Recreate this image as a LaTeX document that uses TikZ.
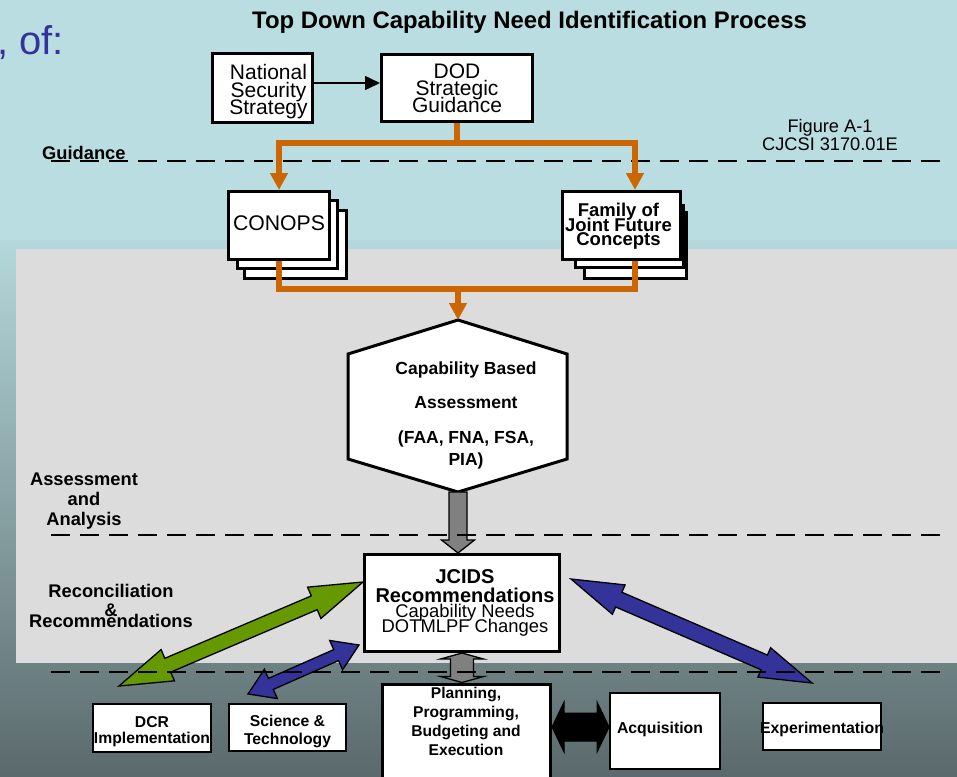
\documentclass[tikz,border=0pt]{standalone}
\usepackage{fontspec}
\setmainfont{Liberation Sans}
\usetikzlibrary{calc,arrows.meta}
\definecolor{bgtop}{HTML}{B9DDE0}
\definecolor{bgmid}{HTML}{B4D8DB}
\definecolor{bgbot}{HTML}{5B6A6C}
\definecolor{panel}{HTML}{DCDCDC}
\definecolor{orng}{HTML}{CC6600}
\definecolor{grn}{HTML}{669900}
\definecolor{blu}{HTML}{333399}
\definecolor{gry}{HTML}{808080}
\newcommand\fsz[2]{\fontsize{#1}{#2}\selectfont}
\newcommand\zc[1]{\makebox[0pt]{#1}}
\newcommand\zcs[2]{\makebox[0pt]{\hspace*{#1}#2}}
% single block arrow: style, from, to, head length, head half width, shaft half width
\newcommand\sblockarrow[6]{%
  \coordinate (sbH) at ($(#3)!#4!(#2)$);
  \draw[#1] ($(#2)!#6!90:(#3)$) -- ($(sbH)!#6!-90:(#2)$) -- ($(sbH)!#5!-90:(#2)$) -- (#3)
    -- ($(sbH)!#5!90:(#2)$) -- ($(sbH)!#6!90:(#2)$) -- ($(#2)!#6!-90:(#3)$) -- cycle;}
% double block arrow
\newcommand\dblockarrow[6]{%
  \coordinate (dbHa) at ($(#2)!#4!(#3)$);
  \coordinate (dbHb) at ($(#3)!#4!(#2)$);
  \draw[#1] (#2) -- ($(dbHa)!#5!90:(#3)$) -- ($(dbHa)!#6!90:(#3)$) -- ($(dbHb)!#6!-90:(#2)$)
    -- ($(dbHb)!#5!-90:(#2)$) -- (#3) -- ($(dbHb)!#5!90:(#2)$) -- ($(dbHb)!#6!90:(#2)$)
    -- ($(dbHa)!#6!-90:(#3)$) -- ($(dbHa)!#5!-90:(#3)$) -- cycle;}
\begin{document}
\lineskiplimit=-100pt
\begin{tikzpicture}[x=1pt,y=-1pt,
  box/.style={draw=black, line width=3pt, fill=white, inner sep=0pt, align=center},
  sbox/.style={draw=black, line width=1.8pt, fill=white, inner sep=0pt, align=center},
  txt/.style={inner sep=0pt, align=center},
  divider/.style={line width=2.6pt, dash pattern=on 19pt off 10pt},
  flow/.style={draw=orng, line width=5.5pt},
  flowtip/.style={-{Triangle[length=17pt,width=17pt]}},
  gblock/.style={fill=grn, draw=black, line width=1.3pt},
  bblock/.style={fill=blu, draw=black, line width=1.3pt},
  yblock/.style={fill=gry, draw=black, line width=1.3pt},
  kblock/.style={fill=black, draw=black, line width=1pt},
  lab/.style={inner sep=0pt, align=center, font=\bfseries\fsz{18.3}{20}}
]
\useasboundingbox (0,0) rectangle (957,776);
\clip (0,0) rectangle (957,776);
% background
\fill[bgtop] (0,0) rectangle (957,241);
\shade[top color=bgmid, bottom color=bgbot] (0,240) rectangle (957,776);
\fill[panel] (16,249) rectangle (957,663);

% texts
\node[anchor=base, inner sep=0pt, font=\bfseries\fsz{23.9}{24}] (title) at (529.5,28.3) {Top Down Capability Need Identification Process};
\node[anchor=base east, inner sep=0pt, text=blu, font=\fsz{40}{40}] (of) at (64,54) {, of:};
\node[anchor=base west, inner sep=0pt, font=\bfseries\fsz{18.3}{20}] (lguid) at (42,159) {Guidance};
\node[txt, font=\fsz{18.2}{18}] (fig) at (830,135.4) {Figure A-1\\CJCSI 3170.01E};
\node[lab] (laa) at (84,501.3) {Assessment\\and\\Analysis};
\node[lab, font=\bfseries\fsz{18.3}{19}] (lrr) at (111,606.3) {Reconciliation\\\&\\[-8pt]Recommendations};

% top boxes
\node[box, minimum width=100pt, minimum height=69pt, font=\fsz{21}{17.7}] (nss) at (262.5,88)
  {\zcs{12pt}{\rule{0pt}{22.4pt}National}\\\zcs{12pt}{Security}\\\zcs{12pt}{Strategy}};
\node[box, minimum width=151pt, minimum height=67pt, font=\fsz{21}{17}] (dod) at (457,88) {DOD\\Strategic\\Guidance};

% CONOPS stack
\node[box, minimum width=102pt, minimum height=68pt] (conops3) at (295.5,244.5) {};
\node[box, minimum width=100pt, minimum height=68pt] (conops2) at (287.5,234.5) {};
\node[box, minimum width=101pt, minimum height=68pt, font=\fsz{21.2}{21}, text height=15.2pt, text depth=4.8pt] (conops) at (279,225.5) {CONOPS};
% Family stack
\node[box, minimum width=102pt, minimum height=66pt] (family3) at (635.5,245.5) {};
\node[box, minimum width=108pt, minimum height=62pt] (family2) at (629.5,236.5) {};
\node[box, minimum width=118pt, minimum height=68pt, font=\bfseries\fsz{18.5}{14.7}] (family) at (621.5,225.5)
  {\zcs{-6pt}{\rule{0pt}{15pt}Family of}\\\zcs{-6pt}{Joint Future}\\\zcs{-6pt}{Concepts}};

% hexagon
\coordinate (ht) at (458,320);
\coordinate (hur) at (567,354);
\coordinate (hlr) at (567,459);
\coordinate (hb) at (458,492);
\coordinate (hll) at (348,459);
\coordinate (hul) at (348,354);
\draw[line width=3pt, fill=white] (ht) -- (hur) -- (hlr) -- (hb) -- (hll) -- (hul) -- cycle;
\node[txt, font=\bfseries\fsz{17.5}{34.5}] (cba) at (466,415) {Capability Based\\Assessment\\(FAA, FNA, FSA,\\[-12.5pt]PIA)};

% JCIDS
\node[box, minimum width=195pt, minimum height=97pt, font=\fsz{18.4}{15}] (jcids) at (462,603)
  {\zcs{6pt}{\bfseries\fsz{20}{15}JCIDS}\\[4pt]\zcs{6pt}{\bfseries\fsz{20}{15}Recommendations}\\\zcs{6pt}{Capability Needs}\\\zcs{6pt}{DOTMLPF Changes}};

% bottom boxes
\node[box, minimum width=168pt, minimum height=120pt, anchor=north] (ppbe) at (466.5,682.5) {};
\node[txt, font=\bfseries\fsz{15.6}{19}] (ppbet) at (466,721.8) {Planning,\\Programming,\\Budgeting and\\Execution};
\node[sbox, minimum width=110pt, minimum height=76pt, font=\bfseries\fsz{15.8}{16}, text height=11.3pt, text depth=7.3pt] (acq) at (665,731) {\zcs{-10pt}{Acquisition}};
\node[sbox, minimum width=118pt, minimum height=47pt, font=\bfseries\fsz{15.8}{16}, text height=16.3pt, text depth=3.3pt] (exp) at (822,726.5) {\zc{Experimentation}};
\node[sbox, minimum width=118pt, minimum height=48pt, font=\bfseries\fsz{15.7}{16}] (dcr) at (152,728) {\zc{\rule{0pt}{17.3pt}DCR}\\\zc{Implementation}};
\node[sbox, minimum width=117pt, minimum height=47pt, font=\bfseries\fsz{15.7}{18}] (st) at (287.5,727.5) {\zc{\rule{0pt}{18.4pt}Science \&}\\\zc{Technology}};

% block arrows
\coordinate (gL) at (119,686);
\coordinate (gR) at ([yshift=21pt]jcids.west);
\dblockarrow{gblock}{gL}{gR}{53pt}{17pt}{7.5pt}
\coordinate (sL) at (248,694);
\coordinate (sR) at ([shift={(-4pt,-42pt)}]jcids.west);
\dblockarrow{bblock}{sL}{sR}{25pt}{16pt}{6pt}
\coordinate (eL) at ([shift={(10pt,24pt)}]jcids.east);
\coordinate (eR) at (812,683);
\dblockarrow{bblock}{eL}{eR}{52pt}{16pt}{8pt}
\coordinate (hbj) at (hb |- jcids.north);
\sblockarrow{yblock}{hb}{hbj}{13pt}{16.5pt}{9pt}
\coordinate (pj) at (jcids.south |- ppbe.north);
\dblockarrow{yblock}{jcids.south}{pj}{6pt}{21.5pt}{11.5pt}
\coordinate (kR) at ([yshift=4pt]acq.west);
\coordinate (kL) at (kR -| ppbe.east);
\dblockarrow{kblock}{kL}{kR}{12pt}{25pt}{14pt}

% dividers
\draw[divider] (51,161) -- (942,161);
\draw[divider] (51,535) -- (942,535);
\draw[divider] (51,672) -- (942,672);

% thin arrow
\draw[line width=1.5pt, -{Triangle[length=15pt,width=14pt]}] ([yshift=5pt]nss.east) -- ([yshift=5pt]dod.west);

% orange flow
\coordinate (jt) at (457,143);
\coordinate (jb) at (458,289);
\draw[flow] (dod.south) -- (jt);
\draw[flow, flowtip] (jt) -| (conops.north);
\draw[flow, flowtip] (jt) -| ([xshift=13.5pt]family.north);
\draw[flow] (conops.south) |- (jb) -| ([xshift=13.5pt]family.south);
\draw[flow, flowtip] (jb) -- (ht);
\end{tikzpicture}
\end{document}
